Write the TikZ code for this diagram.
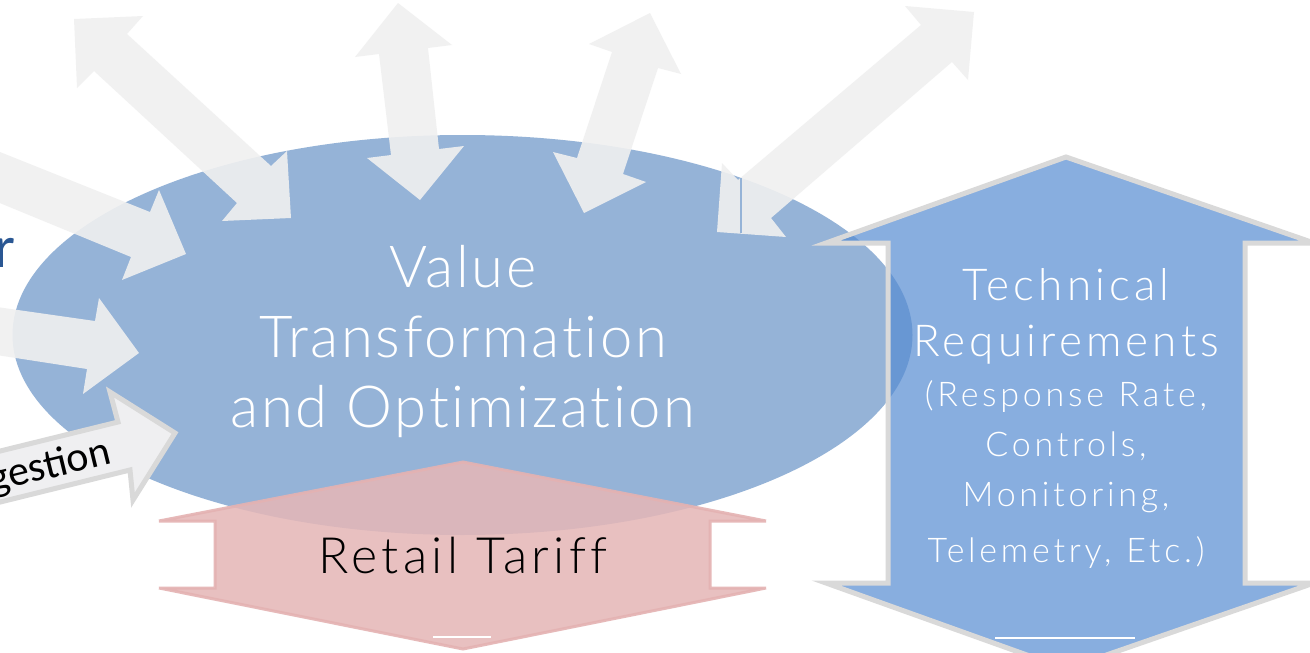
\documentclass[tikz,border=0pt]{standalone}
\usepackage{fontspec}
\IfFontExistsTF{Lato Light}{\def\lightname{Lato Light}}{\def\lightname{Lato}}
\newfontfamily\valuefont{\lightname}[LetterSpace=4.5,Ligatures=NoCommon]
\newfontfamily\techfont{\lightname}[LetterSpace=9.5,Ligatures=NoCommon]
\newfontfamily\smalltechfont{\lightname}[LetterSpace=11,Ligatures=NoCommon]
\newfontfamily\retailfont{\lightname}[LetterSpace=8.5,Ligatures=NoCommon]
\newfontfamily\calib{Carlito}
\definecolor{ellblue}{HTML}{95B3D7}
\definecolor{arrowgray}{HTML}{F0F0F0}
\definecolor{bordergray}{HTML}{D9D9D9}
\definecolor{techblue}{RGB}{86,140,210}
\definecolor{pinkfill}{RGB}{229,183,183}
\definecolor{pinkedge}{RGB}{228,178,178}
\definecolor{ingest}{HTML}{EFEFF1}
\definecolor{darkblue}{RGB}{42,87,147}
\begin{document}
\begin{tikzpicture}[x=1pt,y=-1pt,
  lightarrow/.style={fill=arrowgray,fill opacity=0.9},
  grayarrow/.style={draw=bordergray,line width=5pt,fill=ingest,line join=miter},
  techarrow/.style={draw=bordergray,line width=5pt,fill=techblue,fill opacity=0.7,line join=miter},
  pinkarrow/.style={draw=pinkedge,line width=3pt,fill=pinkfill,fill opacity=0.87,draw opacity=0.9,line join=miter},
  bigtext/.style={inner sep=0pt,text=white,align=center},
  seam/.style={draw=white,line width=1.5pt}]
\useasboundingbox (0,0) rectangle (1310,653);
\clip (0,0) rectangle (1310,653);
\fill[white] (0,0) rectangle (1310,653);
% central ellipse
\fill[ellblue] (462.5,335) ellipse [x radius=450, y radius=200];
% light arrows
\fill[lightarrow] (74,19) -- (143,16) -- (127,34) -- (271,166) -- (287,151) -- (291,218) -- (222,221) -- (237,203) -- (94,71) -- (77,88) -- cycle;
\fill[lightarrow] (398,3) -- (452,45) -- (428,48) -- (439,149) -- (464,146) -- (420,200) -- (367,158) -- (391,155) -- (379,54) -- (355,57) -- cycle;
\fill[lightarrow] (650,13) -- (681,74) -- (658,68) -- (623,174) -- (646,182) -- (584,213) -- (553,152) -- (577,158) -- (612,52) -- (589,44) -- cycle;
\fill[lightarrow] (974,12) -- (968,80) -- (952,62) -- (771,218) -- (786,237) -- (717,232) -- (722,163) -- (738,180) -- (921,25) -- (905,6) -- cycle;
\fill[lightarrow] (-10,148) -- (150,212) -- (159,190) -- (186,254) -- (122,280) -- (131,257) -- (-10,199) -- cycle;
\fill[lightarrow] (-10,306) -- (95,321) -- (99,298) -- (139,353) -- (83,394) -- (87,369) -- (-10,354) -- cycle;
\draw[ellblue, line width=1.2pt] (741,178) -- (741,233);
% ingestion arrow
\draw[grayarrow] (-20,456) -- (118,422) -- (110,392) -- (175,433) -- (133,500) -- (130,470) -- (-20,507) -- cycle;
\node[font=\calib\fontsize{42}{44}\selectfont, rotate=13.7, anchor=base east, inner sep=0pt] (gest) at (113,463) {gestion};
% technical requirements arrow
\draw[techarrow] (1066,157) -- (1314,243) -- (1245,243) -- (1245,583) -- (1314,583) -- (1066,669) -- (826,583) -- (888,583) -- (888,243) -- (826,243) -- cycle;
\draw[seam] (995,638) -- (1135,638);
% retail tariff arrow
\draw[pinkarrow] (463,462) -- (766,521) -- (710,521) -- (710,588) -- (766,588) -- (463,649) -- (159,588) -- (215,588) -- (215,521) -- (159,521) -- cycle;
\draw[seam] (433,637) -- (491,637);
% texts
\node[bigtext, text width=640pt, anchor=north, font=\valuefont\fontsize{58}{70}\selectfont] (value) at (463,245) {Value\\Transformation\\and Optimization};
\node[bigtext, text width=440pt, anchor=north, font=\techfont\fontsize{44}{56}\selectfont] (tech) at (1066,268) {Technical\\Requirements\\\smalltechfont\fontsize{34}{50}\selectfont(Response Rate,\\Controls,\\Monitoring,\\Telemetry, Etc.)};
\node[inner sep=0pt, anchor=base, font=\retailfont\fontsize{50}{60}\selectfont] (retail) at (463,573) {Retail Tariff};
\node[font=\calib\fontsize{60}{60}\selectfont, text=darkblue, anchor=base east, inner sep=0pt] (rr) at (16,267) {r};
\end{tikzpicture}
\end{document}
